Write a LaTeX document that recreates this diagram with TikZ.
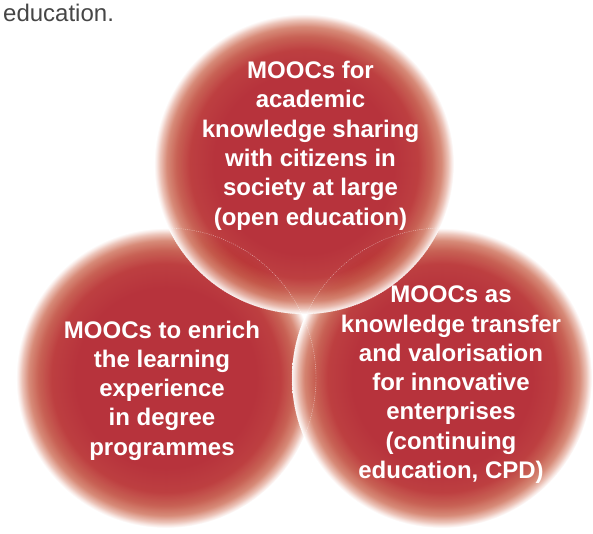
\documentclass[tikz,border=0pt]{standalone}
\usepackage{fontspec}
\setmainfont{Liberation Sans}
\definecolor{cA}{RGB}{178,36,45}
\definecolor{cB}{RGB}{184,48,50}
\definecolor{cC}{RGB}{196,86,72}
\definecolor{cD}{RGB}{212,130,110}
\definecolor{cE}{RGB}{234,190,178}
\definecolor{cF}{RGB}{248,232,228}
\definecolor{capgray}{RGB}{70,70,70}
\pgfdeclareradialshading{mooc}{\pgfpoint{0bp}{0bp}}{color(0bp)=(cA); color(15bp)=(cA); color(19bp)=(cB); color(21.3bp)=(cC); color(22.9bp)=(cD); color(24bp)=(cE); color(24.6bp)=(cF); color(25bp)=(white); color(50bp)=(white)}
\begin{document}
\begin{tikzpicture}[x=1pt,y=-1pt,
  bubble/.style={circle, minimum size=300pt, inner sep=0pt, outer sep=0pt, shading=mooc, opacity=0.93},
  lbl/.style={text=white, font=\bfseries\fontsize{24}{29.3}\selectfont, align=center, inner sep=0pt},
  rim/.style={draw=white, line width=0.4pt, dash pattern=on 1pt off 1.2pt, opacity=0.6}]
\useasboundingbox (0,0) rectangle (593,534);
\node[anchor=base west, inner sep=0pt, text=capgray, font=\fontsize{24}{28}\selectfont] (cap) at (3,21.7) {education.};
\node[bubble] (left) at (166,378) {};
\node[bubble] (right) at (442,378) {};
\node[bubble] (top) at (304,164) {};
\draw[rim] (left.center) circle[radius=150pt];
\draw[rim] (right.center) circle[radius=150pt];
\draw[rim] (top.center) circle[radius=150pt];
\node[lbl] (ttop) at (310.5,145.6) {MOOCs for\\academic\\knowledge sharing\\with citizens in\\society at large\\(open education)};
\node[lbl] (tleft) at (162,390.5) {MOOCs to enrich\\the learning\\experience\\in degree\\programmes};
\node[lbl] (tright) at (451,384.8) {MOOCs as\\knowledge transfer\\and valorisation\\for innovative\\enterprises\\(continuing\\education, CPD)};
\end{tikzpicture}
\end{document}
